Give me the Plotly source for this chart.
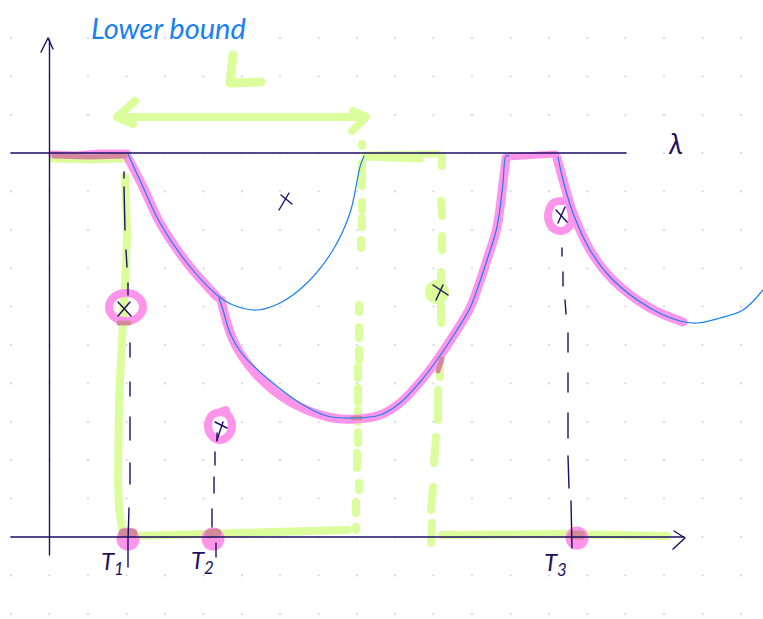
import plotly.graph_objects as go

INK = "#1d0f63"
GREEN = "#dcfd9c"
PINK = "#ff95ea"
OVERLAP = "#d3899b"
BLUE = "#1a80f2"

# dot paper
grid_x = [11, 49.5, 88, 126.5, 165, 203.5, 242, 280, 318.5, 357, 395, 433.5, 472, 510.5, 549, 587.5, 625.5, 664, 702.5, 741]
grid_y = [38, 76.5, 115, 153, 191.5, 230, 268.5, 306.5, 345, 383.5, 422, 460, 498.5, 537, 575.5, 614]

# green highlighter
green_arrow_x = [125, 365, None, 135, 117, 133, None, 353, 366, 352]
green_arrow_y = [117, 117, None, 101, 117, 124, None, 111, 117, 131]
green_l_x = [233, 230, 261]
green_l_y = [55, 83, 82]
green_top_x = [53, 90, 125, None, 365, 420, None, 365, 400, 437]
green_top_y = [159, 160, 159, None, 157, 159, None, 155, 155, 154]
green_edge_x = [125, 126, 127, 126, 124, 123, 121, 119, 118, 118, 119, 122, 126]
green_edge_y = [177, 205, 233, 265, 293, 320, 360, 400, 443, 480, 510, 528, 537]
green_base_x = [133, 240, 348, None, 442, 560, 667]
green_base_y = [536, 534, 530, None, 535, 534, 536]
green_dash_a_x = [362, 362, None, 362, 362, None, 362, 362, None, 362, 362, None, 361, 361, None,
                  359, 359, None, 359, 359, None, 359, 359, None, 358, 358, None, 358, 358, None,
                  358, 358, None, 358, 358, None, 357, 357, None, 359, 359, None, 356, 356, None, 356, 356]
green_dash_a_y = [144, 146, None, 163, 186, None, 202, 210, None, 218, 227, None, 240, 248,
                  None, 305, 312, None, 327, 338, None, 350, 360, None, 367, 378, None, 388, 402, None,
                  410, 422, None, 432, 443, None, 453, 468, None, 483, 490, None, 502, 513, None, 527, 530]
green_dash_b_x = [442, 442, None, 441, 442, None, 442, 442, None, 441, 441, None, 441, 441, None,
                  440, 440, None, 438, 438, None, 436, 434, None, 433, 431, None, 432, 431]
green_dash_b_y = [157, 166, None, 201, 216, None, 236, 250, None, 272, 280, None, 305, 323,
                  None, 355, 377, None, 390, 420, None, 437, 463, None, 487, 510, None, 523, 543]
green_blob_x = [437]
green_blob_y = [292]

# pink highlighter
pink_flat_x = [52, 75, 100, 127, None, 507, 530, 555]
pink_flat_y = [154, 155, 153, 153, None, 157, 155, 154]
pink_one_x = [127, 143, 160, 187, 217]
pink_one_y = [156, 187, 223, 263, 297]
pink_two_x = [221, 233, 250, 273, 300, 333, 357, 380, 400, 420, 437, 457, 470, 478, 487, 497, 503, 506]
pink_two_y = [300, 340, 367, 390, 407, 418, 419, 415, 403, 382, 360, 330, 308, 287, 260, 227, 183, 158]
pink_three_x = [557, 563, 573, 590, 613, 650, 683]
pink_three_y = [158, 180, 213, 250, 280, 308, 322]
pink_ring_a_x = [126, 138, 143, 138, 126, 114, 109, 114, 126]
pink_ring_a_y = [293, 297, 307, 317, 321, 317, 307, 297, 293]
pink_ring_b_x = [220, 228, 232, 228, 220, 212, 208, 212, 220, 226]
pink_ring_b_y = [412, 415, 426, 436, 440, 436, 426, 415, 412, 410]
pink_ring_c_x = [565, 553, 548, 552, 560, 568, 572, 570]
pink_ring_c_y = [201, 203, 216, 227, 231, 228, 218, 208]
pink_dot_x = [128, 213, 577]
pink_dot_y = [539, 539, 538]

# where pink went over green
overlap_x = [54, 90, 125, None, 119, 129, None, 353, 360, None, 438, 442]
overlap_y = [156, 157, 156, None, 323, 323, None, 418, 418, None, 371, 359]
overlap_dot_x = [123, 133, None, 209, 217, None, 573, 581]
overlap_dot_y = [533, 533, None, 534, 533, None, 535, 535]

# thin blue parabolas
blue_one_x = [128, 143, 160, 187, 217, 233, 257, 280, 307, 333, 350, 360, 364]
blue_one_y = [154, 187, 223, 263, 295, 305, 310, 303, 283, 250, 213, 167, 156]
blue_two_x = [219, 223, 230, 243, 267, 300, 327, 353, 380, 400, 420, 437, 457, 470, 478, 487, 497, 503, 506, 509]
blue_two_y = [298, 310, 333, 355, 378, 403, 416, 418, 415, 403, 382, 360, 330, 308, 287, 260, 227, 183, 156, 156]
blue_three_x = [558, 563, 573, 590, 613, 650, 680, 697, 720, 743, 763]
blue_three_y = [157, 180, 213, 250, 280, 308, 321, 323, 318, 310, 290]

# ink
axis_x = [49.5, 49.5, None, 41, 48, 53, None, 11, 626, None, 11, 684, None, 674, 685, 673]
axis_y = [40, 555, None, 52, 38, 49, None, 153, 153, None, 537, 537, None, 531, 538, 549]
dash_one_x = [124, 124, None, 124, 125, None, 126, 127, None, 128, 128, None, 130, 130, None, 130, 130,
              None, 130, 130, None, 130, 130, None, 129, 128, 128]
dash_one_y = [172, 178, None, 187, 230, None, 250, 267, None, 283, 295, None, 343, 357, None, 382, 396,
              None, 417, 440, None, 463, 484, None, 508, 540, 567]
dash_two_x = [217, 217, None, 215, 215, None, 214, 214, None, 212, 212, None, 216, 216]
dash_two_y = [433, 441, None, 452, 465, None, 477, 493, None, 509, 527, None, 543, 557]
dash_three_x = [562, 562, None, 563, 563, None, 565, 566, None, 568, 568, None, 568, 568, None, 568, 568,
                None, 568, 569, None, 571, 572]
dash_three_y = [248, 256, None, 272, 286, None, 300, 314, None, 333, 352, None, 373, 392, None, 413, 438,
                None, 456, 488, None, 501, 548]
cross_x = [279, 289, None, 281, 292, None, 118, 131, None, 118, 130, None, 215, 227, None, 223, 217,
           None, 556, 567, None, 565, 558, None, 433, 448, None, 443, 436]
cross_y = [210, 193, None, 195, 204, None, 302, 316, None, 316, 302, None, 422, 428, None, 422, 440,
           None, 210, 222, None, 207, 223, None, 285, 295, None, 285, 300]

labels = ["Lower bound", "λ", "T<sub>1</sub>", "T<sub>2</sub>", "T<sub>3</sub>"]
label_x = [168, 675, 112, 202, 555]
label_y = [27, 143, 562, 561, 563]
label_colors = [BLUE, INK, INK, INK, INK]
label_sizes = [29, 28, 24, 24, 24]


def stroke(fig, x, y, color, width, smooth=False):
    fig.add_trace(go.Scatter(
        x=x,
        y=y,
        mode="lines",
        line=dict(color=color, width=width, shape="spline" if smooth else "linear", smoothing=1.0),
        connectgaps=False,
        hoverinfo="skip"
    ))


fig = go.Figure()

fig.add_trace(go.Scatter(
    x=[gx for gx in grid_x for gy in grid_y],
    y=[gy for gx in grid_x for gy in grid_y],
    mode="markers",
    marker=dict(color="#c6d0e4", size=2),
    hoverinfo="skip"
))

stroke(fig, green_arrow_x, green_arrow_y, GREEN, 8)
stroke(fig, green_l_x, green_l_y, GREEN, 9)
stroke(fig, green_top_x, green_top_y, GREEN, 7)
stroke(fig, green_edge_x, green_edge_y, GREEN, 8)
stroke(fig, green_base_x, green_base_y, GREEN, 8)
stroke(fig, green_dash_a_x, green_dash_a_y, GREEN, 8)
stroke(fig, green_dash_b_x, green_dash_b_y, GREEN, 8)
fig.add_trace(go.Scatter(
    x=green_blob_x,
    y=green_blob_y,
    mode="markers",
    marker=dict(color=GREEN, size=24),
    hoverinfo="skip"
))

fig.add_trace(go.Scatter(
    x=pink_dot_x,
    y=pink_dot_y,
    mode="markers",
    marker=dict(color=PINK, size=23),
    hoverinfo="skip"
))
stroke(fig, pink_flat_x, pink_flat_y, PINK, 7)
stroke(fig, pink_one_x, pink_one_y, PINK, 9, smooth=True)
stroke(fig, pink_two_x, pink_two_y, PINK, 9, smooth=True)
stroke(fig, pink_three_x, pink_three_y, PINK, 9, smooth=True)
stroke(fig, pink_ring_a_x, pink_ring_a_y, PINK, 8, smooth=True)
stroke(fig, pink_ring_b_x, pink_ring_b_y, PINK, 8, smooth=True)
stroke(fig, pink_ring_c_x, pink_ring_c_y, PINK, 8, smooth=True)
stroke(fig, overlap_x, overlap_y, OVERLAP, 5)
stroke(fig, overlap_dot_x, overlap_dot_y, OVERLAP, 9)

stroke(fig, blue_one_x, blue_one_y, BLUE, 1.2, smooth=True)
stroke(fig, blue_two_x, blue_two_y, BLUE, 1.2, smooth=True)
stroke(fig, blue_three_x, blue_three_y, BLUE, 1.2, smooth=True)

stroke(fig, axis_x, axis_y, INK, 1.4)
stroke(fig, dash_one_x, dash_one_y, INK, 1.4)
stroke(fig, dash_two_x, dash_two_y, INK, 1.4)
stroke(fig, dash_three_x, dash_three_y, INK, 1.4)
stroke(fig, cross_x, cross_y, INK, 1.4)

for label, lx, ly, color, size in zip(labels, label_x, label_y, label_colors, label_sizes):
    fig.add_annotation(
        x=lx,
        y=ly,
        text=label,
        showarrow=False,
        font=dict(family="Lato, Open Sans, sans-serif", color=color, size=size, style="italic", weight=400)
    )

fig.update_layout(
    width=763,
    height=619,
    margin=dict(l=0, r=0, t=0, b=0),
    showlegend=False,
    paper_bgcolor="white",
    plot_bgcolor="white"
)
fig.update_xaxes(visible=False, range=[0, 763])
fig.update_yaxes(visible=False, range=[619, 0])

# page margin off, round pen ends
page_css = """
var s = document.createElement('style');
s.textContent = 'body{margin:0;overflow:hidden} .js-line{stroke-linecap:round;stroke-linejoin:round}';
document.head.appendChild(s);
"""

fig.write_html("out.html", config={"displayModeBar": False}, post_script=page_css)
